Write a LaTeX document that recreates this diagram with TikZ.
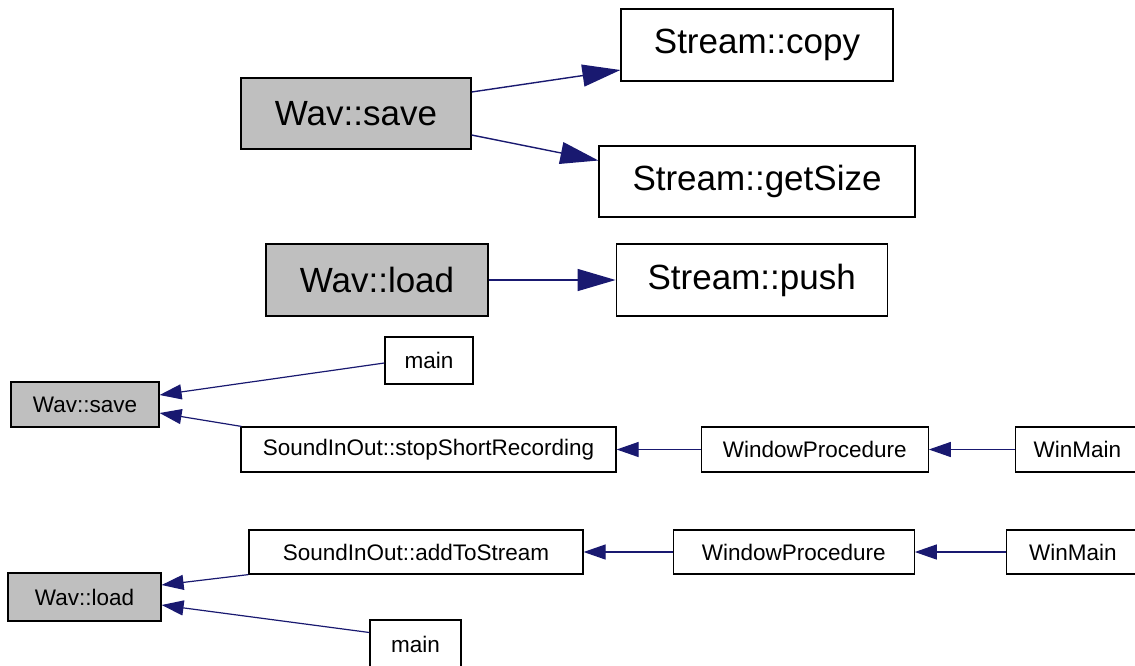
\documentclass[tikz,border=0pt]{standalone}
\usepackage{fontspec}
\setmainfont{Liberation Sans}
\usetikzlibrary{positioning, arrows.meta, calc}

\definecolor{edgeblue}{HTML}{191970}
\definecolor{curgray}{HTML}{BFBFBF}

\tikzset{
  fn/.style={draw=black, line width=1.2pt, rectangle, inner sep=0pt, text=black},
  bigfn/.style={fn, font=\fontsize{35}{40}\selectfont, minimum height=71pt},
  smallfn/.style={fn, font=\fontsize{22.5}{26}\selectfont, minimum height=45pt},
  cur/.style={fill=curgray},
  bigcall/.style={edgeblue, line width=1.4pt, -{Triangle[length=38pt, width=22pt]}},
  smallcall/.style={edgeblue, line width=1.2pt, -{Triangle[length=22pt, width=15pt]}},
}

\begin{document}
\begin{tikzpicture}[x=1pt, y=-1pt]
  \useasboundingbox (0,0) rectangle (1135,665);
  \clip (0,0) rectangle (1135,665);

  % Wav::save calls
  \node[bigfn, cur, minimum width=230pt] (save) at (356,113.5) {Wav::save};
  \node[bigfn, minimum width=272pt, minimum height=72pt] (copy) at (757,45) {Stream::copy};
  \node[bigfn, minimum width=316pt] (getsize) at (757,181.5) {Stream::getSize};

  % Wav::load calls
  \node[bigfn, cur, minimum width=222pt, minimum height=72pt] (load) at (377,280) {Wav::load};
  \node[bigfn, right=127pt of load, minimum width=271pt, minimum height=72pt] (push) {Stream::push};

  \draw[bigcall] ([yshift=21.5pt]save.east) -- ([yshift=-25pt]copy.west);
  \draw[bigcall] ([yshift=-21.5pt]save.east) -- ([yshift=21pt]getsize.west);
  \draw[bigcall] (load) -- (push);

  % Callers of Wav::save
  \node[smallfn, cur, minimum width=148pt] (save2) at (85,404.5) {Wav::save};
  \node[smallfn, minimum width=88pt, minimum height=47pt] (main1) at (429,360.5) {main};
  \node[smallfn, minimum width=375pt] (stop) at (428.5,449.5) {SoundInOut::stopShortRecording};
  \node[smallfn, right=84pt of stop, minimum width=227pt] (wp1) {WindowProcedure};
  \node[smallfn, right=86pt of wp1, minimum width=124pt] (wm1) {WinMain};

  \draw[smallcall] ([yshift=-2.5pt]main1.west) -- ([yshift=9.5pt]save2.east);
  \draw[smallcall] ([xshift=1pt]stop.north west) -- ([yshift=-8.5pt]save2.east);
  \draw[smallcall] (wp1) -- (stop);
  \draw[smallcall] (wm1) -- (wp1);

  % Callers of Wav::load
  \node[smallfn, cur, minimum width=153pt, minimum height=48pt] (load2) at (84.5,597) {Wav::load};
  \node[smallfn, minimum width=334pt, minimum height=44pt] (add) at (416,552) {SoundInOut::addToStream};
  \node[smallfn, right=89pt of add, minimum width=241pt, minimum height=44pt] (wp2) {WindowProcedure};
  \node[smallfn, right=91pt of wp2, minimum width=133pt, minimum height=44pt] (wm2) {WinMain};
  \node[smallfn, minimum width=91pt, minimum height=49pt] (main2) at (415.5,644.5) {main};

  \draw[smallcall] (add.south west) -- ([yshift=12pt]load2.east);
  \draw[smallcall] ([yshift=12pt]main2.west) -- ([yshift=-8pt]load2.east);
  \draw[smallcall] (wp2) -- (add);
  \draw[smallcall] (wm2) -- (wp2);
\end{tikzpicture}
\end{document}
